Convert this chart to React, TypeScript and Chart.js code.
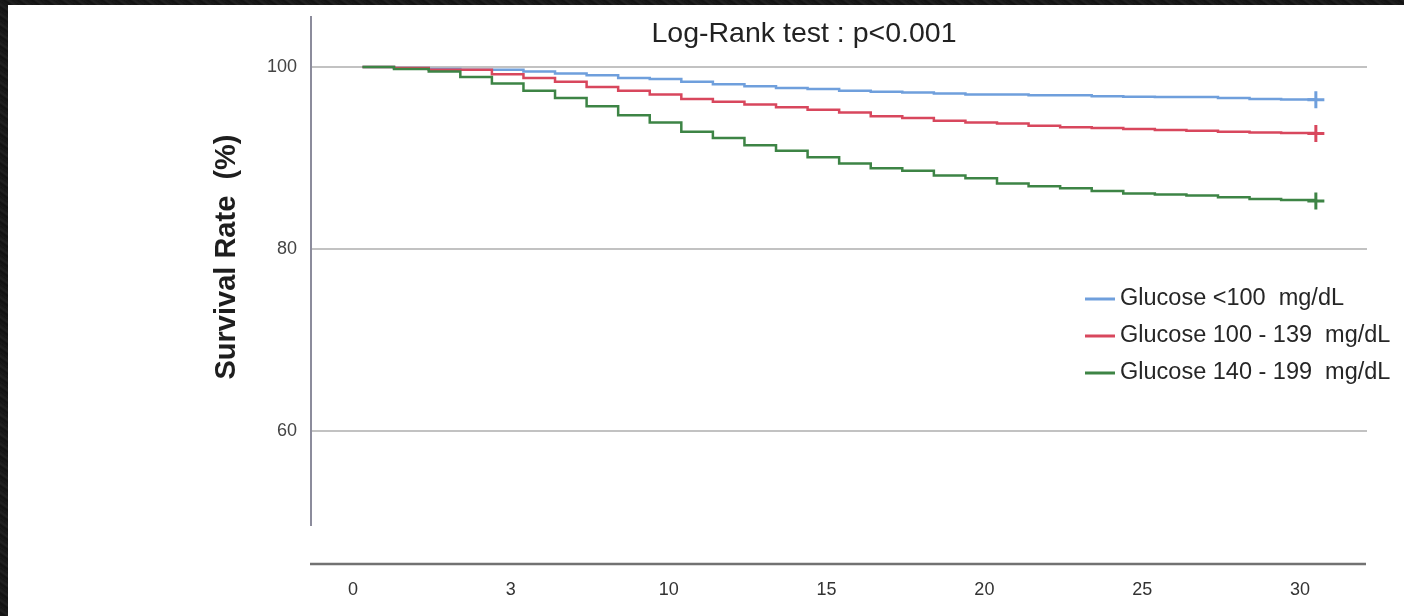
import React, { useEffect, useRef } from "react";
import { Chart, registerables } from "chart.js";

Chart.register(...registerables);

// Follow-up times at which the survival estimate steps down
const TIME_POINTS = [
  0.3, 1.3, 2.4, 3.4, 4.4, 5.4, 6.4, 7.4, 8.4, 9.4, 10.4, 11.4, 12.4, 13.4, 14.4, 15.4,
  16.4, 17.4, 18.4, 19.4, 20.4, 21.4, 22.4, 23.4, 24.4, 25.4, 26.4, 27.4, 28.4, 29.4, 30.5,
];

// Survival rate (%) per glucose group
const SURVIVAL_LT100 = [
  100, 99.9, 99.8, 99.7, 99.7, 99.5, 99.3, 99.1, 98.8, 98.7, 98.4, 98.1, 97.9, 97.7, 97.6, 97.4,
  97.3, 97.2, 97.1, 97.0, 97.0, 96.9, 96.9, 96.8, 96.75, 96.7, 96.7, 96.6, 96.5, 96.45, 96.4,
];
const SURVIVAL_100_139 = [
  100, 99.9, 99.7, 99.7, 99.2, 98.8, 98.4, 97.8, 97.4, 97.0, 96.5, 96.2, 95.9, 95.6, 95.3, 95.0,
  94.6, 94.4, 94.1, 93.9, 93.8, 93.55, 93.4, 93.3, 93.2, 93.1, 93.0, 92.9, 92.8, 92.75, 92.7,
];
const SURVIVAL_140_199 = [
  100, 99.8, 99.5, 98.9, 98.2, 97.4, 96.6, 95.7, 94.7, 93.9, 92.9, 92.2, 91.4, 90.8, 90.1, 89.4,
  88.9, 88.6, 88.1, 87.8, 87.2, 86.9, 86.7, 86.4, 86.1, 86.0, 85.9, 85.7, 85.5, 85.4, 85.3,
];

const SERIES_LABELS = [
  "Glucose <100  mg/dL",
  "Glucose 100 - 139  mg/dL",
  "Glucose 140 - 199  mg/dL",
];
const SERIES_COLORS = ["#6f9fdc", "#d8475d", "#3d8445"];

const Y_TICKS = [60, 80, 100];
const X_TICK_VALUES = [0, 5, 10, 15, 20, 25, 30];
const X_TICK_LABELS = ["0", "3", "10", "15", "20", "25", "30"];

const CHART_TITLE = "Log-Rank test : p<0.001";
const Y_TITLE = "Survival Rate  (%)";

const FONT = "'Liberation Sans', Arial, Helvetica, sans-serif";

// Title, rotated y title, detached time axis and the legend box
const decorations = {
  id: "kmDecorations",
  afterDraw(chart: any) {
    const { ctx, chartArea } = chart;
    ctx.save();

    // time axis drawn below the plot, separated from the survival axis
    const axisY = chartArea.bottom + 39;
    ctx.strokeStyle = "#727272";
    ctx.lineWidth = 2.5;
    ctx.beginPath();
    ctx.moveTo(chartArea.left - 1, axisY);
    ctx.lineTo(chartArea.right - 1, axisY);
    ctx.stroke();

    // chart title
    ctx.fillStyle = "#222";
    ctx.font = `28.5px ${FONT}`;
    ctx.textAlign = "center";
    ctx.textBaseline = "alphabetic";
    ctx.fillText(CHART_TITLE, 804, 42);

    // y-axis title
    ctx.save();
    ctx.translate(235, 257);
    ctx.rotate(-Math.PI / 2);
    ctx.font = `bold 29px ${FONT}`;
    ctx.fillStyle = "#1e1e1e";
    ctx.textAlign = "center";
    ctx.textBaseline = "alphabetic";
    ctx.fillText(Y_TITLE, 0, 0);
    ctx.restore();

    // legend
    const rows = [299, 336, 373];
    chart.data.datasets.forEach((ds: any, i: number) => {
      const y = rows[i];
      ctx.strokeStyle = ds.borderColor;
      ctx.lineWidth = 3;
      ctx.beginPath();
      ctx.moveTo(1085, y);
      ctx.lineTo(1115, y);
      ctx.stroke();
      ctx.fillStyle = "#262626";
      ctx.font = `23.5px ${FONT}`;
      ctx.textAlign = "left";
      ctx.textBaseline = "middle";
      ctx.fillText(ds.label, 1120, y);
    });

    ctx.restore();
  },
};

function makeDataset(label: string, values: number[], color: string, order: number) {
  const last = values.length - 1;
  return {
    label,
    data: TIME_POINTS.map((t, i) => ({ x: t, y: values[i] })),
    borderColor: color,
    backgroundColor: color,
    borderWidth: 2.5,
    stepped: true,
    fill: false,
    order,
    pointStyle: "cross",
    pointRadius: (c: any) => (c.dataIndex === last ? 8.5 : 0),
    pointBorderWidth: 3,
    pointBorderColor: color,
    pointHoverRadius: 0,
  };
}

export default function App() {
  const canvasRef = useRef<HTMLCanvasElement>(null);

  useEffect(() => {
    document.body.style.margin = "0";
    Chart.defaults.font.family = FONT;

    const chart = new Chart(canvasRef.current as HTMLCanvasElement, {
      type: "line",
      data: {
        datasets: [
          makeDataset(SERIES_LABELS[0], SURVIVAL_LT100, SERIES_COLORS[0], 2),
          makeDataset(SERIES_LABELS[1], SURVIVAL_100_139, SERIES_COLORS[1], 1),
          makeDataset(SERIES_LABELS[2], SURVIVAL_140_199, SERIES_COLORS[2], 0),
        ] as any,
      },
      options: {
        animation: false,
        responsive: true,
        maintainAspectRatio: false,
        layout: { padding: { left: 200, top: 17, right: 37, bottom: 0 } },
        plugins: {
          legend: { display: false },
          title: { display: false },
          tooltip: { enabled: false },
        },
        scales: {
          x: {
            type: "linear",
            min: -1.33,
            max: 32.12,
            grid: { display: false, drawTicks: false },
            border: { display: false },
            afterBuildTicks: (scale: any) => {
              scale.ticks = X_TICK_VALUES.map((v) => ({ value: v }));
            },
            afterFit: (scale: any) => {
              scale.height = 91;
              scale.paddingLeft = 0;
              scale.paddingRight = 0;
            },
            ticks: {
              autoSkip: false,
              maxRotation: 0,
              padding: 54,
              color: "#333",
              font: { size: 18, family: FONT },
              callback: (value: any) => {
                const idx = X_TICK_VALUES.indexOf(Number(value));
                return idx >= 0 ? X_TICK_LABELS[idx] : "";
              },
            },
          },
          y: {
            type: "linear",
            min: 49.7,
            max: 105.5,
            grid: { color: "#c2c2c2", lineWidth: 2, drawTicks: false },
            border: { display: true, color: "#8c8c9c", width: 2 },
            afterBuildTicks: (scale: any) => {
              scale.ticks = Y_TICKS.map((v) => ({ value: v }));
            },
            afterFit: (scale: any) => {
              scale.width = 111;
              scale.paddingTop = 0;
              scale.paddingBottom = 0;
            },
            ticks: {
              padding: 14,
              color: "#444",
              font: { size: 18, family: FONT },
              callback: (value: any) => String(value),
            },
          },
        },
      },
      plugins: [decorations],
    });

    return () => chart.destroy();
  }, []);

  return (
    <div
      style={{
        position: "fixed",
        left: 0,
        top: 0,
        width: 1404,
        height: 616,
        overflow: "hidden",
        background:
          "repeating-linear-gradient(35deg, #1b1b1b 0px, #121212 3px, #222 5px, #151515 8px)",
      }}
    >
      <div style={{ position: "absolute", left: 8, top: 5, right: 0, bottom: 0, background: "#fff" }} />
      <div style={{ position: "absolute", left: 0, top: 0, width: 1404, height: 616 }}>
        <canvas ref={canvasRef} />
      </div>
    </div>
  );
}
